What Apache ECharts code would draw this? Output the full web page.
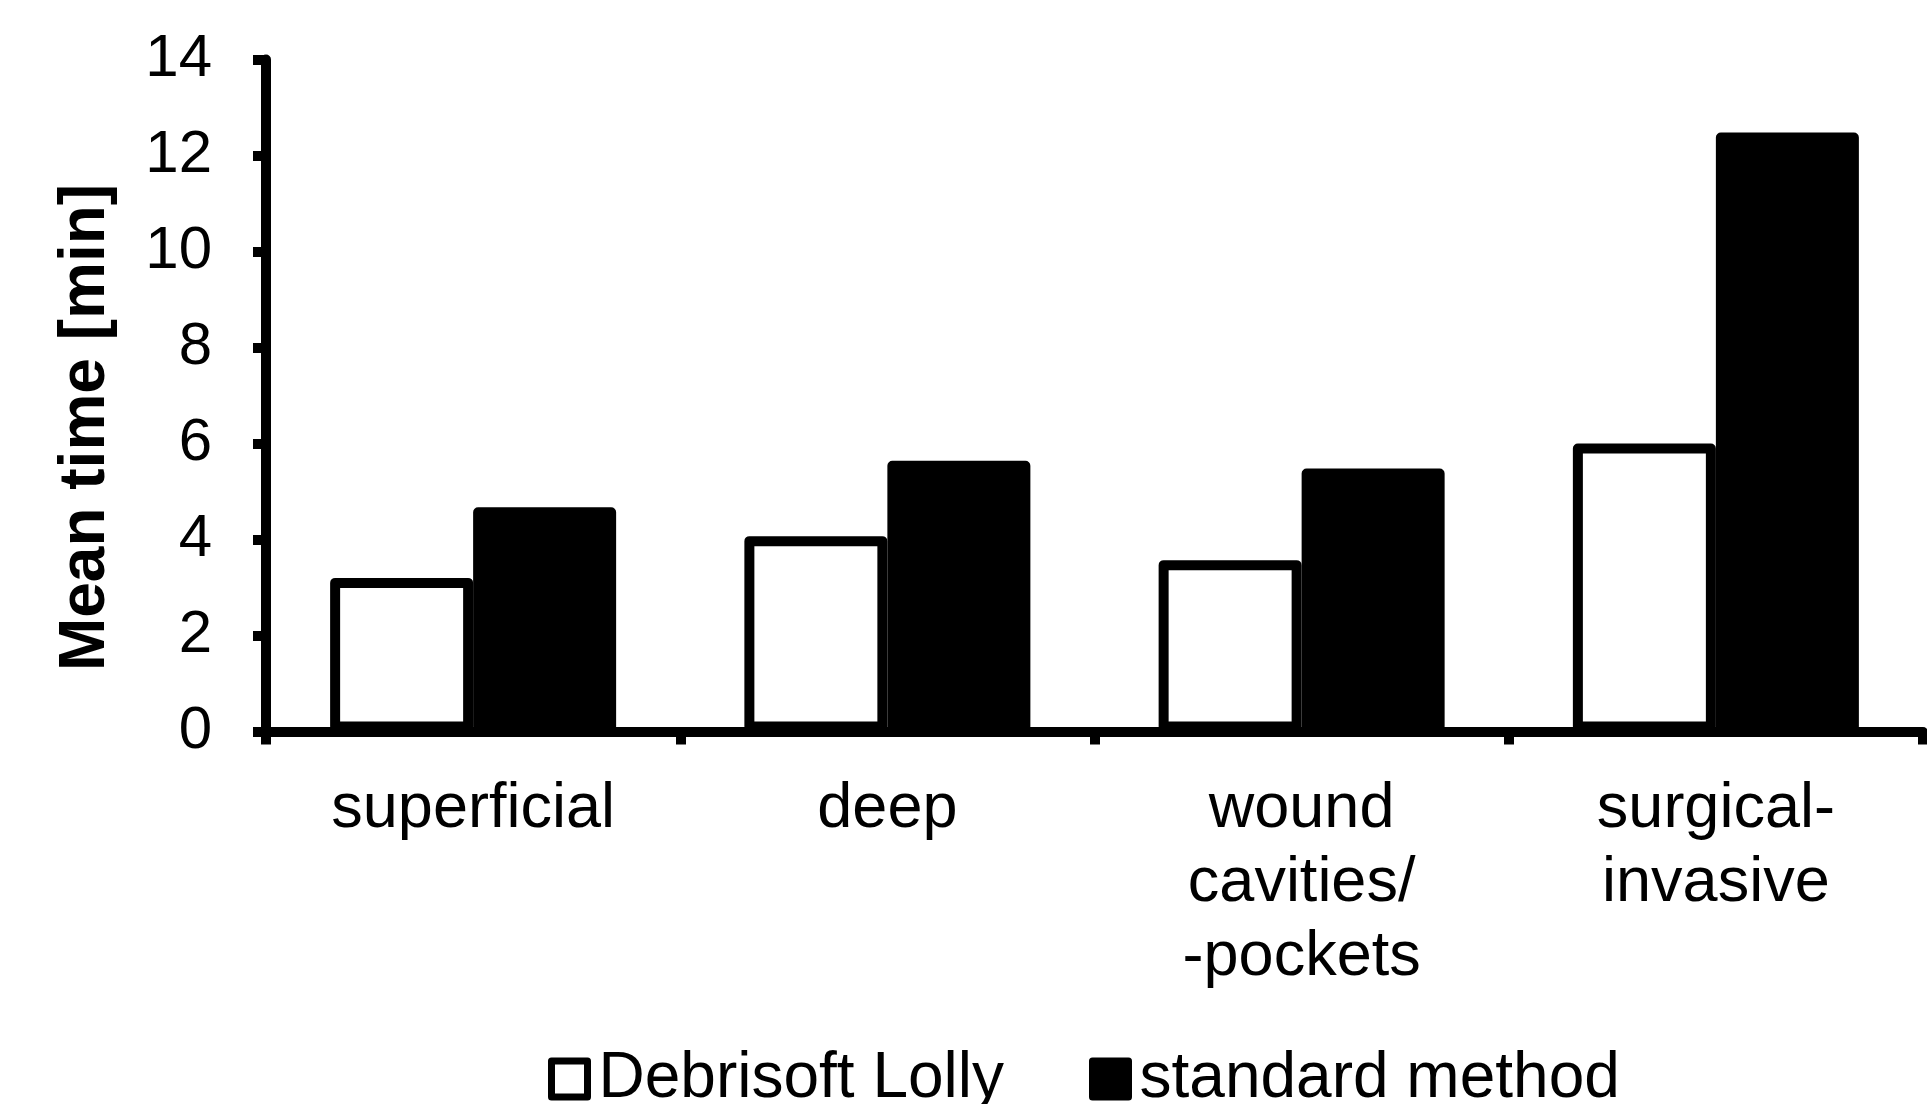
<!DOCTYPE html>
<html>
<head>
<meta charset="utf-8">
<script src="https://cdn.jsdelivr.net/npm/echarts@6/dist/echarts.min.js"></script>
<style>
  html, body { margin: 0; padding: 0; background: #fff; }
  #chart { width: 1927px; height: 1104px; }
</style>
</head>
<body>
<div id="chart"></div>
<script>
// Wound categories on the x axis
const categories = ['superficial', 'deep', 'wound\ncavities/\n-pockets', 'surgical-\ninvasive'];
// Mean debridement time in minutes per method
const lollyTimes = [3.2, 4.07, 3.57, 6.0];
const standardTimes = [4.67, 5.64, 5.48, 12.48];
// Y axis range and step
const yMin = 0;
const yMax = 14;
const yStep = 2;

const FONT = '"Liberation Sans", Arial, Helvetica, sans-serif';

const chart = echarts.init(document.getElementById('chart'), null, { renderer: 'canvas' });

chart.setOption({
  backgroundColor: '#ffffff',
  animation: false,
  textStyle: { fontFamily: FONT, color: '#000' },
  grid: {
    left: 266, right: 4, top: 59.5, bottom: 372.5,
    containLabel: false,
    outerBoundsMode: 'none'
  },
  legend: {
    left: 548,
    top: 1047,
    padding: 0,
    itemWidth: 36,
    itemHeight: 36,
    itemGap: 85,
    textStyle: { fontSize: 64, fontFamily: FONT, color: '#000', padding: [0, 0, 0, 6] },
    data: [
      { name: 'Debrisoft Lolly', icon: 'rect', itemStyle: { color: '#fff', borderColor: '#000', borderWidth: 7, borderJoin: 'round' } },
      { name: 'standard method', icon: 'rect', itemStyle: { color: '#000', borderColor: '#000', borderWidth: 7, borderJoin: 'round' } }
    ]
  },
  xAxis: {
    type: 'category',
    data: categories,
    axisLine: { show: true, lineStyle: { color: '#000', width: 10 } },
    axisTick: { show: true, inside: false, length: 13, interval: 0, lineStyle: { color: '#000', width: 10 } },
    axisLabel: {
      interval: 0,
      margin: 41,
      fontSize: 63,
      lineHeight: 74,
      color: '#000',
      fontFamily: FONT
    },
    splitLine: { show: false }
  },
  yAxis: {
    type: 'value',
    min: yMin,
    max: yMax,
    interval: yStep,
    name: 'Mean time [min]',
    nameLocation: 'middle',
    nameRotate: 90,
    nameGap: 148,
    nameTextStyle: {
      fontSize: 64,
      fontWeight: 'bold',
      color: '#000',
      fontFamily: FONT,
      padding: [0, 64, 0, 0]
    },
    axisLine: { show: true, lineStyle: { color: '#000', width: 10 } },
    axisTick: { show: true, inside: false, length: 13, lineStyle: { color: '#000', width: 10 } },
    axisLabel: { margin: 54, fontSize: 60, color: '#000', fontFamily: FONT },
    splitLine: { show: false }
  },
  series: [
    {
      name: 'Debrisoft Lolly',
      type: 'bar',
      data: lollyTimes,
      barWidth: 143,
      barGap: '0%',
      itemStyle: { color: '#fff', borderColor: '#000', borderWidth: 10, borderJoin: 'round' }
    },
    {
      name: 'standard method',
      type: 'bar',
      data: standardTimes,
      barWidth: 143,
      barGap: '0%',
      itemStyle: { color: '#000', borderColor: '#000', borderWidth: 10, borderJoin: 'round' }
    }
  ]
});
</script>
</body>
</html>
